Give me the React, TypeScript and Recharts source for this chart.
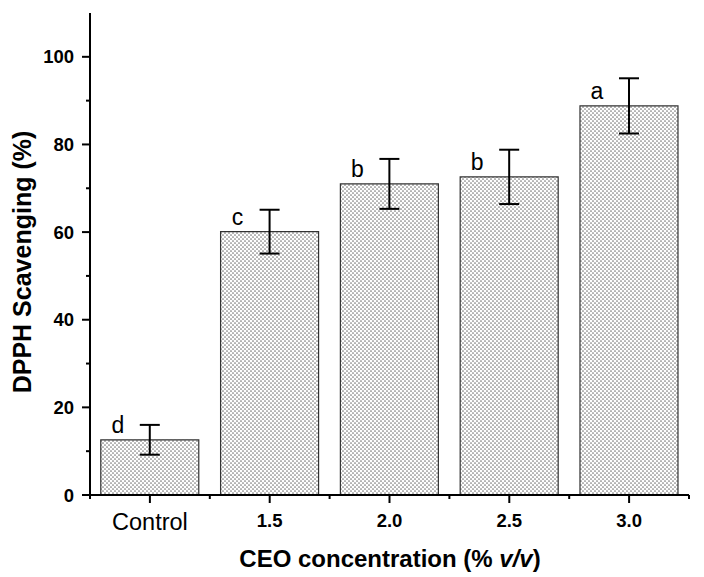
import React from 'react';
import { BarChart, Bar, XAxis, YAxis, ErrorBar, LabelList } from 'recharts';

const categories = ['Control', '1.5', '2.0', '2.5', '3.0'];
const values = [12.6, 60.1, 71.0, 72.6, 88.8];
const errors = [3.4, 5.0, 5.7, 6.2, 6.3];
const letters = ['d', 'c', 'b', 'b', 'a'];
const yTicks = [0, 10, 20, 30, 40, 50, 60, 70, 80, 90, 100];

const data = categories.map((c, i) => ({ name: c, value: values[i], err: errors[i], letter: letters[i] }));

const FONT = '"Liberation Sans", Arial, Helvetica, sans-serif';

const YTick = (props: any) => {
  const { x, y, payload } = props;
  const axisX = x + 16;
  const major = payload.value % 20 === 0;
  return (
    <g>
      <line x1={axisX} x2={axisX - (major ? 8 : 4)} y1={y} y2={y} stroke="#000" strokeWidth={2} />
      {major && (
        <text x={x} y={y} dy={6.5} textAnchor="end" fontFamily={FONT} fontWeight="bold" fontSize={18.5} fill="#000">
          {payload.value}
        </text>
      )}
    </g>
  );
};

const XTick = (props: any) => {
  const { x, y, payload, index } = props;
  const axisY = y - 10;
  const off = payload.offset ?? 60;
  const isControl = payload.value === 'Control';
  const last = index === categories.length - 1;
  return (
    <g>
      <line x1={x} x2={x} y1={axisY} y2={axisY + 8} stroke="#000" strokeWidth={2} />
      <line x1={x - off} x2={x - off} y1={axisY} y2={axisY + 4} stroke="#000" strokeWidth={2} />
      {last && <line x1={x + off} x2={x + off} y1={axisY} y2={axisY + 4} stroke="#000" strokeWidth={2} />}
      <text
        x={x}
        y={axisY + (isControl ? 35 : 32)}
        textAnchor="middle"
        fontFamily={FONT}
        fontWeight={isControl ? 'normal' : 'bold'}
        fontSize={isControl ? 23.5 : 18.5}
        fill="#000"
      >
        {payload.value}
      </text>
    </g>
  );
};

const LetterLabel = (props: any) => {
  const { x, y, value } = props;
  return (
    <text x={x + 17} y={y - 7} textAnchor="middle" fontFamily={FONT} fontSize={23} fill="#000">
      {value}
    </text>
  );
};

const YLabel = () => (
  <text
    x={31}
    y={262}
    transform="rotate(-90 31 262)"
    textAnchor="middle"
    fontFamily={FONT}
    fontWeight="bold"
    fontSize={25}
    fill="#000"
  >
    DPPH Scavenging (%)
  </text>
);

const XLabel = () => (
  <text x={390} y={567} textAnchor="middle" fontFamily={FONT} fontWeight="bold" fontSize={24} fill="#000">
    CEO concentration (%{' '}
    <tspan fontStyle="italic">v/v</tspan>)
  </text>
);

export default function App() {
  return (
    <div style={{ position: 'absolute', left: 0, top: 0, background: '#fff' }}>
      <BarChart
        width={704}
        height={577}
        data={data}
        margin={{ top: 13, right: 15, left: 0, bottom: 0 }}
        barCategoryGap="9%"
      >
        <defs>
          <pattern id="dots" width="4" height="4" patternUnits="userSpaceOnUse">
            <rect width="4" height="4" fill="#ffffff" />
            <circle cx="1" cy="1" r="0.85" fill="#7a7a7a" />
            <circle cx="3" cy="3" r="0.85" fill="#7a7a7a" />
          </pattern>
        </defs>
        <XAxis
          dataKey="name"
          type="category"
          height={82}
          axisLine={{ stroke: '#000', strokeWidth: 2 }}
          tickLine={false}
          tickSize={8}
          tickMargin={2}
          tick={<XTick />}
          interval={0}
          label={<XLabel />}
        />
        <XAxis
          xAxisId="top"
          orientation="top"
          dataKey="name"
          height={0}
          tick={false}
          tickLine={false}
          axisLine={{ stroke: '#000', strokeWidth: 2 }}
        />
        <YAxis
          type="number"
          domain={[0, 110]}
          ticks={yTicks}
          width={90}
          axisLine={{ stroke: '#000', strokeWidth: 2 }}
          tickLine={false}
          tickSize={8}
          tickMargin={8}
          tick={<YTick />}
          interval={0}
          label={<YLabel />}
        />
        <YAxis
          yAxisId="right"
          orientation="right"
          type="number"
          domain={[0, 110]}
          width={0}
          tick={false}
          tickLine={false}
          axisLine={{ stroke: '#000', strokeWidth: 2 }}
        />
        <Bar dataKey="value" fill="url(#dots)" stroke="#333" strokeWidth={1.2} isAnimationActive={false}>
          <ErrorBar dataKey="err" width={10} stroke="#000" strokeWidth={2} />
          <LabelList dataKey="letter" content={<LetterLabel />} />
        </Bar>
      </BarChart>
    </div>
  );
}
